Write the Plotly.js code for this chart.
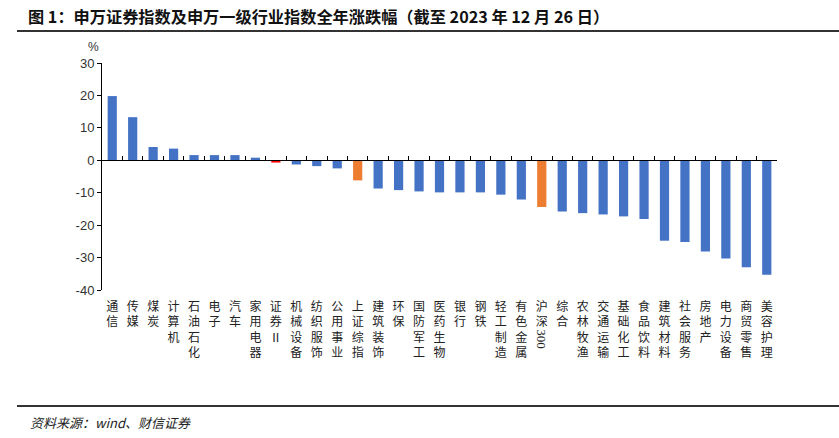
<!DOCTYPE html>
<html><head><meta charset="utf-8">
<script src="https://cdn.plot.ly/plotly-3.0.1.min.js"></script>
<style>html,body{margin:0;padding:0;background:#fff;} #chart{width:839px;height:438px;}</style>
</head><body><div id="chart"></div>
<script>
const categories = ["通信","传媒","煤炭","计算机","石油石化","电子","汽车","家用电器","证券Ⅱ","机械设备","纺织服饰","公用事业","上证综指","建筑装饰","环保","国防军工","医药生物","银行","钢铁","轻工制造","有色金属","沪深300","综合","农林牧渔","交通运输","基础化工","食品饮料","建筑材料","社会服务","房地产","电力设备","商贸零售","美容护理"];
const values = [19.8,13.3,4.1,3.6,1.6,1.6,1.6,0.8,-0.7,-1.3,-1.8,-2.5,-6.2,-8.7,-9.2,-9.6,-9.9,-9.9,-9.9,-10.6,-12.1,-14.4,-15.8,-16.3,-16.7,-17.3,-18.1,-24.8,-25.2,-28.1,-30.3,-33.0,-35.3];
const indexNames = ["上证综指","沪深300"];
const securitiesName = "证券Ⅱ";
const yTicks = [-40,-30,-20,-10,0,10,20,30];

const BLUE = "#4472C4", ORANGE = "#ED7D31", RED = "#FF0000";
const colors = categories.map(c => indexNames.includes(c) ? ORANGE : (c === securitiesName ? RED : BLUE));
const tickText = categories.map(c => {
  if (c === "沪深300") return "沪<br>深";
  return Array.from(c).join("<br>");
});

// plot area pixels
const L = 102, R = 777, T = 63, B = 290, W = 839, H = 438;
const px = x => (x - L) / (R - L);
const py = y => (B - y) / (B - T);

const trace = {
  type: "bar", x: categories, y: values,
  marker: {color: colors, line: {width: 0}},
  hoverinfo: "x+y"
};

const cjk = '"Noto Sans CJK SC", "Noto Sans", sans-serif';

const layout = {
  width: W, height: H,
  margin: {l: L, r: W - R, t: T, b: H - B, pad: 0},
  paper_bgcolor: "#fff", plot_bgcolor: "#fff",
  showlegend: false,
  bargap: 0.55,
  xaxis: {
    type: "category", anchor: "free", position: 40/70,
    range: [-0.5, categories.length - 0.5],
    showline: true, linecolor: "#000", linewidth: 1,
    ticks: "inside", ticklen: 4, tickcolor: "#000", tickwidth: 1,
    tickson: "boundaries",
    tickvals: categories, ticktext: tickText, tickangle: 0,
    tickfont: {family: cjk, size: 12, color: "#222"},
    ticklabelstandoff: 135,
    showgrid: false, zeroline: false, fixedrange: true
  },
  yaxis: {
    range: [-40, 30], tickvals: yTicks, ticktext: yTicks.map(String),
    showline: true, linecolor: "#000", linewidth: 1,
    ticks: "outside", ticklen: 4, tickcolor: "#000",
    tickfont: {family: '"Liberation Sans", Arial, sans-serif', size: 13, color: "#333"},
    showgrid: false, zeroline: false, fixedrange: true
  },
  shapes: [
    {type: "line", xref: "paper", yref: "paper", x0: px(17), x1: px(839), y0: py(31), y1: py(31), line: {color: "#333", width: 2}},
    {type: "line", xref: "paper", yref: "paper", x0: px(17), x1: px(839), y0: py(406), y1: py(406), line: {color: "#333", width: 2}}
  ],
  annotations: [
    {xref: "paper", yref: "paper", x: px(26), y: py(16), xanchor: "left", yanchor: "middle", showarrow: false,
     text: "<b>图 1：申万证券指数及申万一级行业指数全年涨跌幅（截至 2023 年 12 月 26 日）</b>",
     font: {family: cjk, size: 16.2, color: "#111"}},
    {xref: "paper", yref: "paper", x: px(93), y: py(47), xanchor: "center", yanchor: "middle", showarrow: false,
     text: "%", font: {family: '"Liberation Sans", Arial, sans-serif', size: 12, color: "#333"}},
    {xref: "x", yref: "paper", x: "沪深300", y: py(339), xanchor: "center", yanchor: "middle", showarrow: false,
     text: "300", textangle: 90, font: {family: '"Liberation Serif", serif', size: 13, color: "#222"}},
    {xref: "paper", yref: "paper", x: px(28), y: py(422), xanchor: "left", yanchor: "middle", showarrow: false,
     text: "<i>资料来源：wind、财信证券</i>", font: {family: cjk, size: 13, color: "#222"}}
  ]
};

Plotly.newPlot("chart", [trace], layout, {staticPlot: true, displayModeBar: false});
</script></body></html>
